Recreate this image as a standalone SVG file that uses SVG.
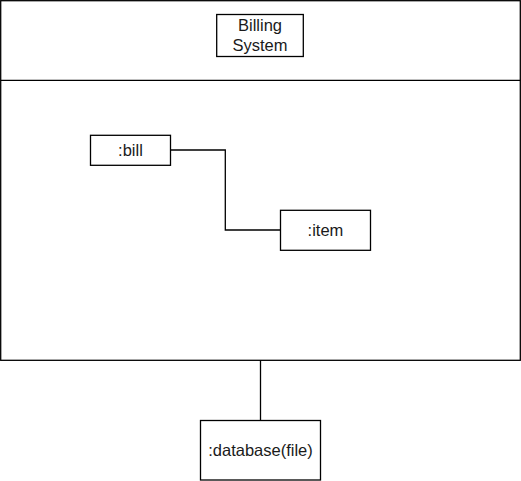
<svg xmlns="http://www.w3.org/2000/svg" width="521" height="481" viewBox="0 0 521 481">
<style>
.box{fill:#fff;stroke:#000;stroke-width:1.3}
.ln{fill:none;stroke:#000;stroke-width:1.3}
text{font-family:"Liberation Sans",Arial,sans-serif;font-size:16.5px;fill:#1a1a1a;text-anchor:middle}
</style>
<rect width="521" height="481" fill="#fff"/>
<g id="system">
<rect class="box" x="0.7" y="0.7" width="519.6" height="359.6"/>
<line class="ln" x1="0.7" y1="80.3" x2="520.3" y2="80.3"/>
</g>
<g id="title">
<rect class="box" x="216.7" y="14.5" width="86.6" height="42"/>
<text x="260" y="30.5">Billing</text>
<text x="260" y="50.5">System</text>
</g>
<g id="connectors">
<polyline class="ln" points="170.5,150 225.3,150 225.3,230 280.5,230"/>
<line class="ln" x1="260.5" y1="360.3" x2="260.5" y2="420.5"/>
</g>
<g id="bill">
<rect class="box" x="90.5" y="135.3" width="80" height="30"/>
<text x="130.5" y="155.5">:bill</text>
</g>
<g id="item">
<rect class="box" x="280.5" y="210.3" width="90" height="40"/>
<text x="325.5" y="235.5">:item</text>
</g>
<g id="database">
<rect class="box" x="200.5" y="420.5" width="120" height="59.5"/>
<text x="260.5" y="456">:database(file)</text>
</g>
</svg>
